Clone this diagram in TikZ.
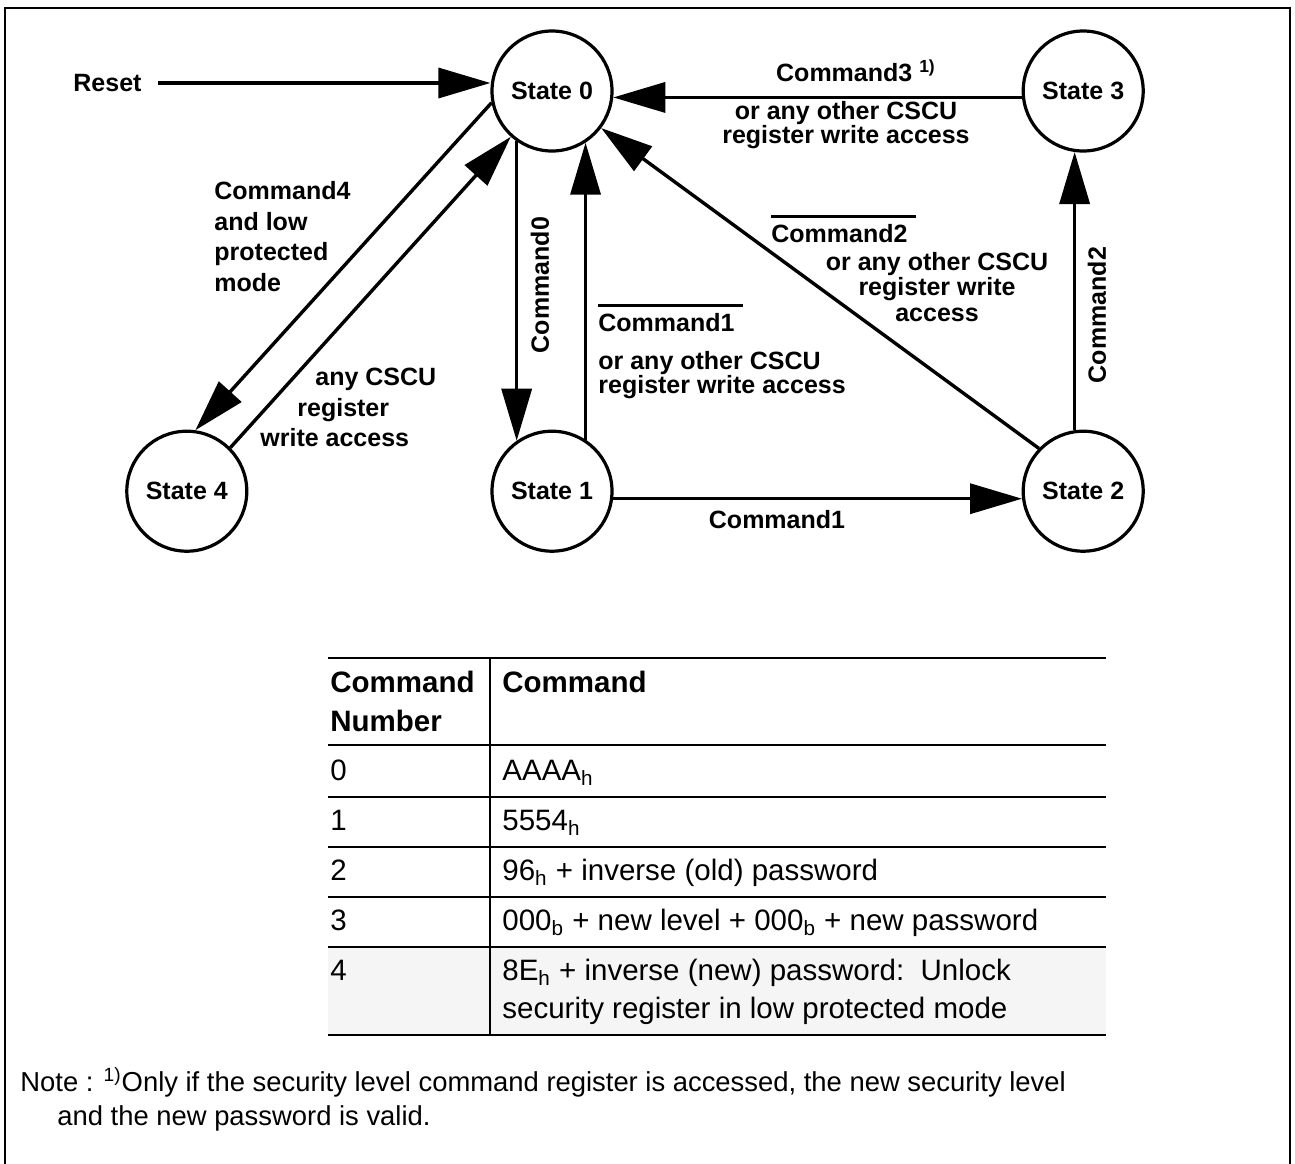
\documentclass[tikz,border=0pt]{standalone}
\usepackage{fontspec}
\setmainfont{Liberation Sans}
\usetikzlibrary{positioning,arrows.meta}

% bar over a command name (negated command)
\newcommand{\barred}[1]{\vbox{\hrule height 1.5pt\kern 3pt\hbox{#1\kern 4pt}}}
\newcommand{\lblfont}{\fontsize{12.5pt}{12pt}\selectfont\bfseries}
\newcommand{\lblwide}{\fontsize{12.5pt}{15.3pt}\selectfont\bfseries}
\newcommand{\tabfont}{\fontsize{14.75pt}{19.25pt}\selectfont}
\newcommand{\notefont}{\fontsize{13.7pt}{17pt}\selectfont}

\tikzset{
  state/.style={draw, circle, line width=1.6pt, minimum size=60pt, inner sep=0pt, font=\lblfont},
  arr/.style={-{Triangle[length=26pt,width=15pt]}, line width=1.7pt},
  lbl/.style={inner sep=0pt, font=\lblfont},
  cell/.style={inner sep=0pt, font=\tabfont, anchor=base west},
  tabrule/.style={line width=1.2pt},
}

\begin{document}
\begin{tikzpicture}[x=0.5pt, y=-0.5pt, node distance=138.5pt]
  \useasboundingbox (0,0) rectangle (1295,1163);
  \draw[line width=1.2pt] (5,1200) -- (5,8) -- (1290,8) -- (1290,1200);

  % states
  \node[state] (s0) at (552,91) {State 0};
  \node[state, right=204pt of s0] (s3) {State 3};
  \node[state, below=of s0] (s1) {State 1};
  \node[state, right=204pt of s1] (s2) {State 2};
  \node[state, left=121pt of s1] (s4) {State 4};

  % labels
  \node[lbl, anchor=west] (reset) at (73,83) {Reset};
  \node[lbl] (c3) at (856,71) {Command3 \textsuperscript{1)}};
  \node[lbl, align=center] (c3b) at (846,125) {or any other CSCU\\register write access};
  \node[lbl, rotate=90] (c0) at (540,285) {Command0};
  \node[lbl, anchor=base west] (c1bar) at (598,331) {\barred{Command1}};
  \node[lbl, align=left, anchor=west] (c1b) at (598,375) {or any other CSCU\\register write access};
  \node[lbl, anchor=base west] (c2bar) at (771,242) {\barred{Command2}};
  \node[lbl, align=center, font=\fontsize{12.5pt}{12.75pt}\selectfont\bfseries] (c2b) at (937,287) {or any other CSCU\\register write\\access};
  \node[lbl, rotate=90] (c2) at (1097,315) {Command2};
  \node[lbl] (c1) at (777,520) {Command1};
  \node[lbl, font=\lblwide, align=left, anchor=west] (c4) at (214,236.5) {Command4\\and low\\protected\\mode};
  \node[lbl, font=\lblwide, align=left, anchor=west] (anyc) at (260,407.5) {\hspace*{27.5pt}any CSCU\\\hspace*{18.5pt}register\\write access};

  % transitions
  \draw[arr] ([xshift=8pt]reset.east) -- (reset.east -| s0.west);
  \draw[arr] (s3.186) -- (s0.-6);
  \draw[arr] (s0.235) -- (s1.125);
  \draw[arr] (s1.57) -- (s0.-57);
  \draw[arr] (s2.136) -- (s0.-37);
  \draw[arr] (s2.98) -- (s3.-98);
  \draw[arr] (s1.-7) -- (s2.187);
  \draw[arr] (s0.191) -- (s4.82);
  \draw[arr] (s4.45) -- (s0.228);

  % command table
  \fill[gray!8] (328,947) rectangle (1106,1035);
  \foreach \y in {658,745,797,847,897,947,1035}
    \draw[tabrule] (328,\y) -- (1106,\y);
  \draw[line width=0.7pt] (490,658) -- (490,1035);

  \node[cell, font=\tabfont\bfseries, align=left, anchor=north west] (hnum) at (330,671) {Command\\Number};
  \node[cell, font=\tabfont\bfseries, anchor=north west] (hcmd) at (502,671) {Command};
  \node[cell] (n0) at (330,780) {0};
  \node[cell] (t0) at (502,780) {AAAA\textsubscript{h}};
  \node[cell] (n1) at (330,830) {1};
  \node[cell] (t1) at (502,830) {5554\textsubscript{h}};
  \node[cell] (n2) at (330,880) {2};
  \node[cell] (t2) at (502,880) {96\textsubscript{h} + inverse (old) password};
  \node[cell] (n3) at (330,930) {3};
  \node[cell] (t3) at (502,930) {000\textsubscript{b} + new level + 000\textsubscript{b} + new password};
  \node[cell] (n4) at (330,980) {4};
  \node[cell, align=left, anchor=north west] (t4) at (502,958.5) {8E\textsubscript{h} + inverse (new) password:\ \ Unlock\\security register in low protected mode};

  % footnote
  \node[inner sep=0pt, font=\notefont, align=left, anchor=north west] (note) at (20,1067)
    {Note : \textsuperscript{1)}Only if the security level command register is accessed, the new security level\\
     \hspace*{18.5pt}and the new password is valid.};
\end{tikzpicture}
\end{document}
